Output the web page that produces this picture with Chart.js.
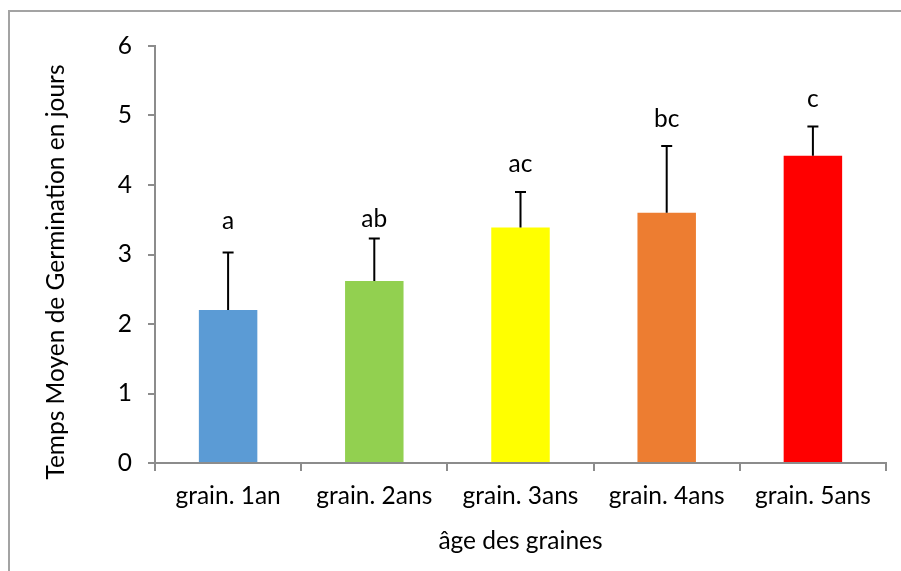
<!DOCTYPE html>
<html>
<head>
<meta charset="utf-8">
<script src="https://cdn.jsdelivr.net/npm/chart.js@4"></script>
<style>
  html, body { margin: 0; padding: 0; background: #fff; overflow: hidden; }
  #wrap { position: relative; width: 901px; height: 571px; }
  #frame { position: absolute; left: 8px; top: 10px; width: 1000px; height: 1000px;
           border-left: 2px solid #a3a3a3; border-top: 2px solid #a3a3a3; }
  canvas { position: absolute; left: 0; top: 0; }
</style>
</head>
<body>
<div id="wrap">
  <div id="frame"></div>
  <canvas id="chart" width="901" height="571"></canvas>
</div>
<script>
const categories = ["grain. 1an", "grain. 2ans", "grain. 3ans", "grain. 4ans", "grain. 5ans"];
const means = [2.20, 2.62, 3.39, 3.60, 4.42];
const errors = [0.83, 0.61, 0.51, 0.96, 0.42];
const letters = ["a", "ab", "ac", "bc", "c"];
const letterAt = [3.48, 3.51, 4.30, 4.95, 5.24];
const barColors = ["#5B9BD5", "#92D050", "#FFFF00", "#ED7D31", "#FF0000"];
const yTicks = [0, 1, 2, 3, 4, 5, 6];
const yTitle = "Temps Moyen de Germination en jours";

const FONT = "Lato, 'Open Sans', sans-serif";
const SIZE = 24.5;

const errorBars = {
  id: "errorBars",
  afterDatasetsDraw(chart) {
    const ctx = chart.ctx;
    const y = chart.scales.y;
    const meta = chart.getDatasetMeta(0);
    ctx.save();
    ctx.strokeStyle = "#000";
    ctx.lineWidth = 2;
    meta.data.forEach((bar, i) => {
      const top = y.getPixelForValue(means[i] + errors[i]);
      const base = y.getPixelForValue(means[i]);
      ctx.beginPath();
      ctx.moveTo(bar.x, base);
      ctx.lineTo(bar.x, top);
      ctx.moveTo(bar.x - 5.5, top);
      ctx.lineTo(bar.x + 5.5, top);
      ctx.stroke();
    });
    ctx.fillStyle = "#000";
    ctx.font = SIZE + "px " + FONT;
    ctx.textAlign = "center";
    ctx.textBaseline = "middle";
    meta.data.forEach((bar, i) => {
      ctx.fillText(letters[i], bar.x, y.getPixelForValue(letterAt[i]));
    });
    // y axis title, sitting a little below the plot centre as in the original
    ctx.translate(56, 272);
    ctx.rotate(-Math.PI / 2);
    ctx.fillText(yTitle, 0, 0);
    ctx.restore();
  }
};

new Chart(document.getElementById("chart"), {
  type: "bar",
  data: {
    labels: categories,
    datasets: [{
      data: means,
      backgroundColor: barColors,
      barPercentage: 0.4,
      categoryPercentage: 1.0
    }]
  },
  options: {
    responsive: false,
    animation: false,
    layout: { padding: { left: 0, right: 15, top: 46, bottom: 0 } },
    plugins: { legend: { display: false }, tooltip: { enabled: false } },
    scales: {
      x: {
        grid: { display: true, drawOnChartArea: false, offset: true, color: "#8c8c8c", lineWidth: 2, tickLength: 8 },
        border: { color: "#8c8c8c", width: 2 },
        ticks: { color: "#000", font: { family: FONT, size: SIZE }, padding: 10, maxRotation: 0 },
        title: { display: true, text: "âge des graines", color: "#000", font: { family: FONT, size: SIZE }, padding: { top: 8, bottom: 15 } },
        afterFit(s) { s.height = 108; }
      },
      y: {
        min: 0, max: 6,
        afterBuildTicks(s) { s.ticks = yTicks.map(v => ({ value: v })); },
        grid: { display: true, drawOnChartArea: false, color: "#8c8c8c", lineWidth: 2, tickLength: 7 },
        border: { color: "#8c8c8c", width: 2 },
        ticks: { color: "#000", font: { family: FONT, size: SIZE }, padding: 16 },
        afterFit(s) { s.width = 155; }
      }
    }
  },
  plugins: [errorBars]
});
</script>
</body>
</html>
